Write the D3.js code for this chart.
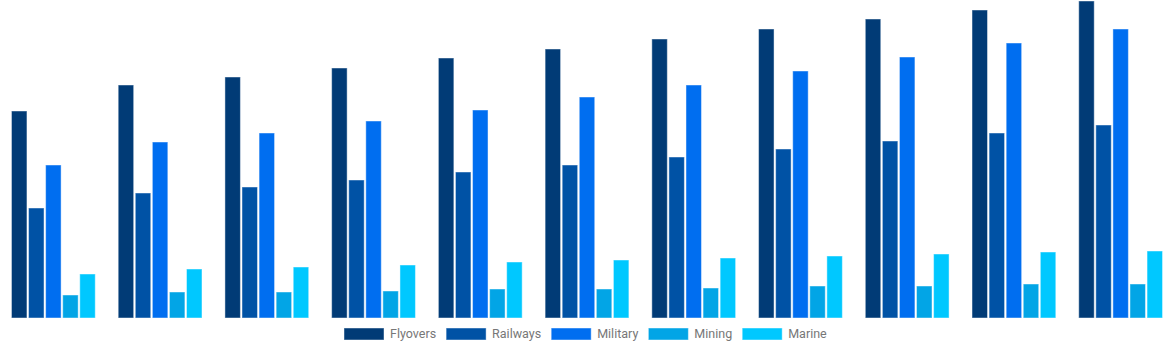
<!DOCTYPE html>
<html>
  <head>
    <meta charset="utf-8">
    <title>Grouped bars</title>
    <script src="https://d3js.org/d3.v7.min.js"></script>
    <style>
      html, body { margin: 0; padding: 0; background: #fff; }
      .legend text { font-family: Roboto, "Liberation Sans", Arial, sans-serif; font-size: 12.5px; fill: #777; }
    </style>
  </head>
  <body>
    <div id="chart"></div>
    <script>
      // data (no axis shown, so units are relative)
      var groups = ["1", "2", "3", "4", "5", "6", "7", "8", "9", "10", "11"];
      var seriesNames = ["Flyovers", "Railways", "Military", "Mining", "Marine"];
      var flyovers = [207, 233, 241, 250, 260, 269, 279, 289, 299, 308, 317];
      var railways = [110, 125, 131, 138, 146, 153, 161, 169, 177, 185, 193];
      var military = [153, 176, 185, 197, 208, 221, 233, 247, 261, 275, 289];
      var mining = [23, 26, 26, 27, 29, 29, 30, 32, 32, 34, 34];
      var marine = [44, 49, 51, 53, 56, 58, 60, 62, 64, 66, 67];
      var colors = ["#013b76", "#0052a5", "#006ef0", "#02a5e6", "#00c8ff"];

      var seriesValues = [flyovers, railways, military, mining, marine];

      var width = 1174, height = 350;
      var baseline = 318;

      var svg = d3.select("#chart")
        .append("svg")
        .attr("width", width)
        .attr("height", height);

      var x0 = d3.scaleBand()
        .domain(groups)
        .range([0, width])
        .paddingInner(0.2)
        .paddingOuter(0.1);

      var x1 = d3.scaleBand()
        .domain(seriesNames)
        .range([0, x0.bandwidth()]);

      var y = d3.scaleLinear()
        .domain([0, 317])
        .range([baseline, 1]);

      var color = d3.scaleOrdinal().domain(seriesNames).range(colors);

      var rows = groups.map(function(g, i) {
        return {
          group: g,
          values: seriesNames.map(function(s, j) {
            return {name: s, value: seriesValues[j][i]};
          })
        };
      });

      var gap = 1.6;

      svg.append("g")
        .selectAll("g")
        .data(rows)
        .enter()
        .append("g")
        .attr("transform", function(d) { return "translate(" + x0(d.group) + ",0)"; })
        .selectAll("rect")
        .data(function(d) { return d.values; })
        .enter()
        .append("rect")
        .attr("x", function(d) { return x1(d.name) + gap / 2; })
        .attr("y", function(d) { return y(d.value); })
        .attr("width", x1.bandwidth() - gap)
        .attr("height", function(d) { return baseline - y(d.value); })
        .attr("fill", function(d) { return color(d.name); })
        .attr("stroke", "#fff")
        .attr("stroke-opacity", 0.45)
        .attr("stroke-width", 1);

      // legend under the bars
      var legend = svg.append("g").attr("class", "legend");
      var items = legend.selectAll("g")
        .data(seriesNames)
        .enter()
        .append("g");
      items.append("rect")
        .attr("width", 40)
        .attr("height", 12)
        .attr("y", 328)
        .attr("fill", function(d) { return color(d); })
        .attr("stroke", "#fff")
        .attr("stroke-opacity", 0.45);
      items.append("text")
        .attr("x", 46)
        .attr("y", 338)
        .text(function(d) { return d; });

      var widths = [];
      items.each(function() {
        widths.push(46 + d3.select(this).select("text").node().getComputedTextLength());
      });
      var offset = 344;
      items.attr("transform", function(d, i) {
        var t = "translate(" + offset + ",0)";
        offset += widths[i] + 10;
        return t;
      });
    </script>
  </body>
</html>
